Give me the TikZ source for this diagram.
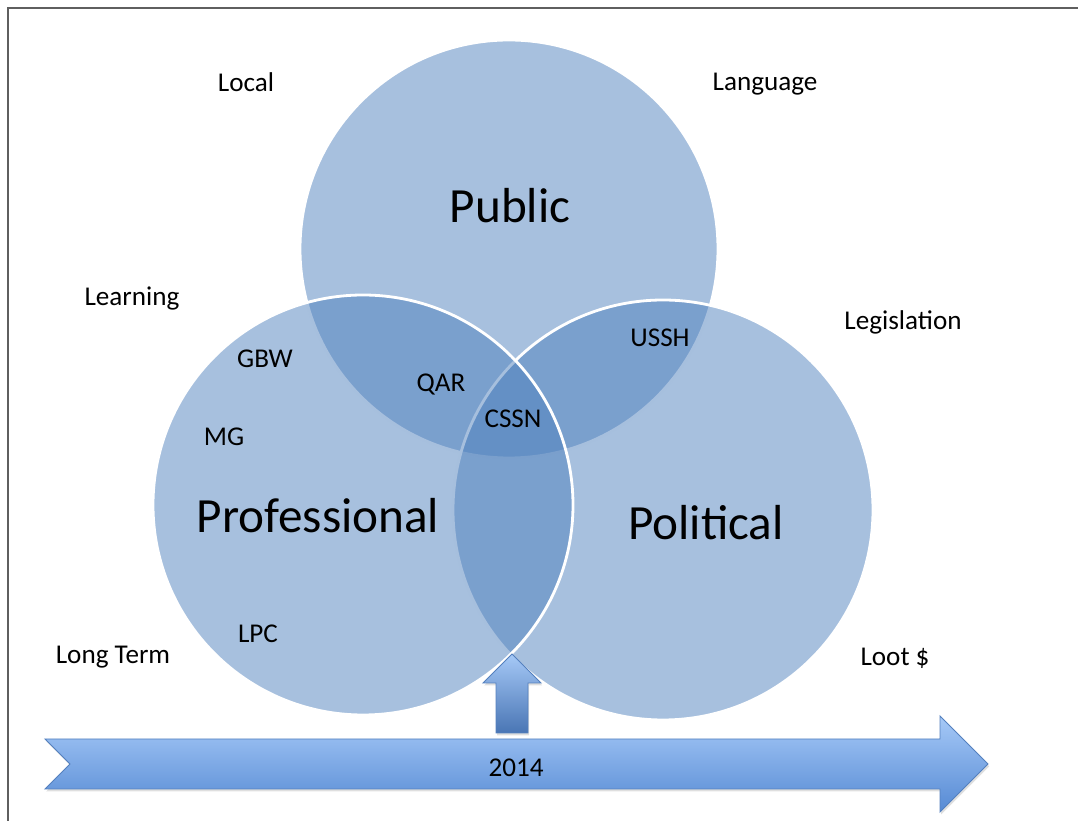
\documentclass[tikz,border=0pt]{standalone}
\usepackage{fontspec}
\setmainfont{Carlito}
\usetikzlibrary{shadows}

\definecolor{setblue}{HTML}{4F81BD}
\definecolor{arrowtop}{RGB}{166,201,247}
\definecolor{arrowbot}{RGB}{86,138,212}
\definecolor{arrowline}{RGB}{84,128,190}
\definecolor{framegray}{RGB}{95,95,95}

\tikzset{
    kruh/.style={circle, inner sep=0pt, fill=setblue, fill opacity=0.5,
        draw=white, draw opacity=1, line width=2pt},
    popis/.style={font=\fontsize{19.3}{23}\selectfont},
    velky/.style={font=\fontsize{35}{42}\selectfont},
    sipka/.style={draw=arrowline, line width=0.6pt, top color=arrowtop,
        bottom color=arrowbot,
        drop shadow={opacity=0.25, shadow xshift=0.03cm, shadow yshift=-0.06cm}},
}

\begin{document}
\begin{tikzpicture}
        \useasboundingbox (0,0) rectangle (26.95,20.525);

        % rámeček
        \draw[framegray, line width=1.4pt] (0.2,0) -- (0.2,20.325) -- (26.95,20.325);

        % kruhy
        \node[kruh, minimum size=10.45cm] (Pub) at (12.725,14.3) {};
        \node[kruh, minimum size=10.5cm] (Pol) at (16.575,7.775) {};
        \node[kruh, minimum size=10.5cm] (Prof) at (9.075,7.9) {};

        % šipky
        \draw[sipka] (1.125,2.05) -- (1.75,1.425) -- (1.125,0.8) -- (23.5,0.8)
        -- (23.5,0.225) -- (24.7,1.425) -- (23.5,2.625) -- (23.5,2.05) -- cycle;
        \draw[sipka, bottom color=arrowbot!85!black] (12.8,4.175) -- (13.525,3.45)
        -- (13.2,3.45) -- (13.2,2.2) -- (12.4,2.2) -- (12.4,3.45) -- (12.075,3.45) -- cycle;

        % názvy kruhů
        \node[velky] (tPub) at (12.75,15.375) {Public};
        \node[velky] (tProf) at (7.95,7.625) {Professional};
        \node[velky] (tPol) at (17.65,7.45) {Political};

        % popisky
        \node[popis] (local) at (6.15,18.475) {Local};
        \node[popis] (language) at (19.125,18.425) {Language};
        \node[popis] (learning) at (3.3,13.05) {Learning};
        \node[popis] (legislation) at (22.575,12.475) {Legislation};
        \node[popis] (longterm) at (2.825,4.1) {Long Term};
        \node[popis] (loot) at (22.375,4.075) {Loot \$};

        \node[popis] (ussh) at (16.5,12.075) {USSH};
        \node[popis] (gbw) at (6.625,11.55) {GBW};
        \node[popis] (qar) at (11.025,10.925) {QAR};
        \node[popis] (cssn) at (12.825,10.05) {CSSN};
        \node[popis] (mg) at (5.6,9.6) {MG};
        \node[popis] (lpc) at (6.45,4.675) {LPC};

        % rok
        \node[popis] (rok) at (12.9,1.325) {2014};
\end{tikzpicture}
\end{document}
